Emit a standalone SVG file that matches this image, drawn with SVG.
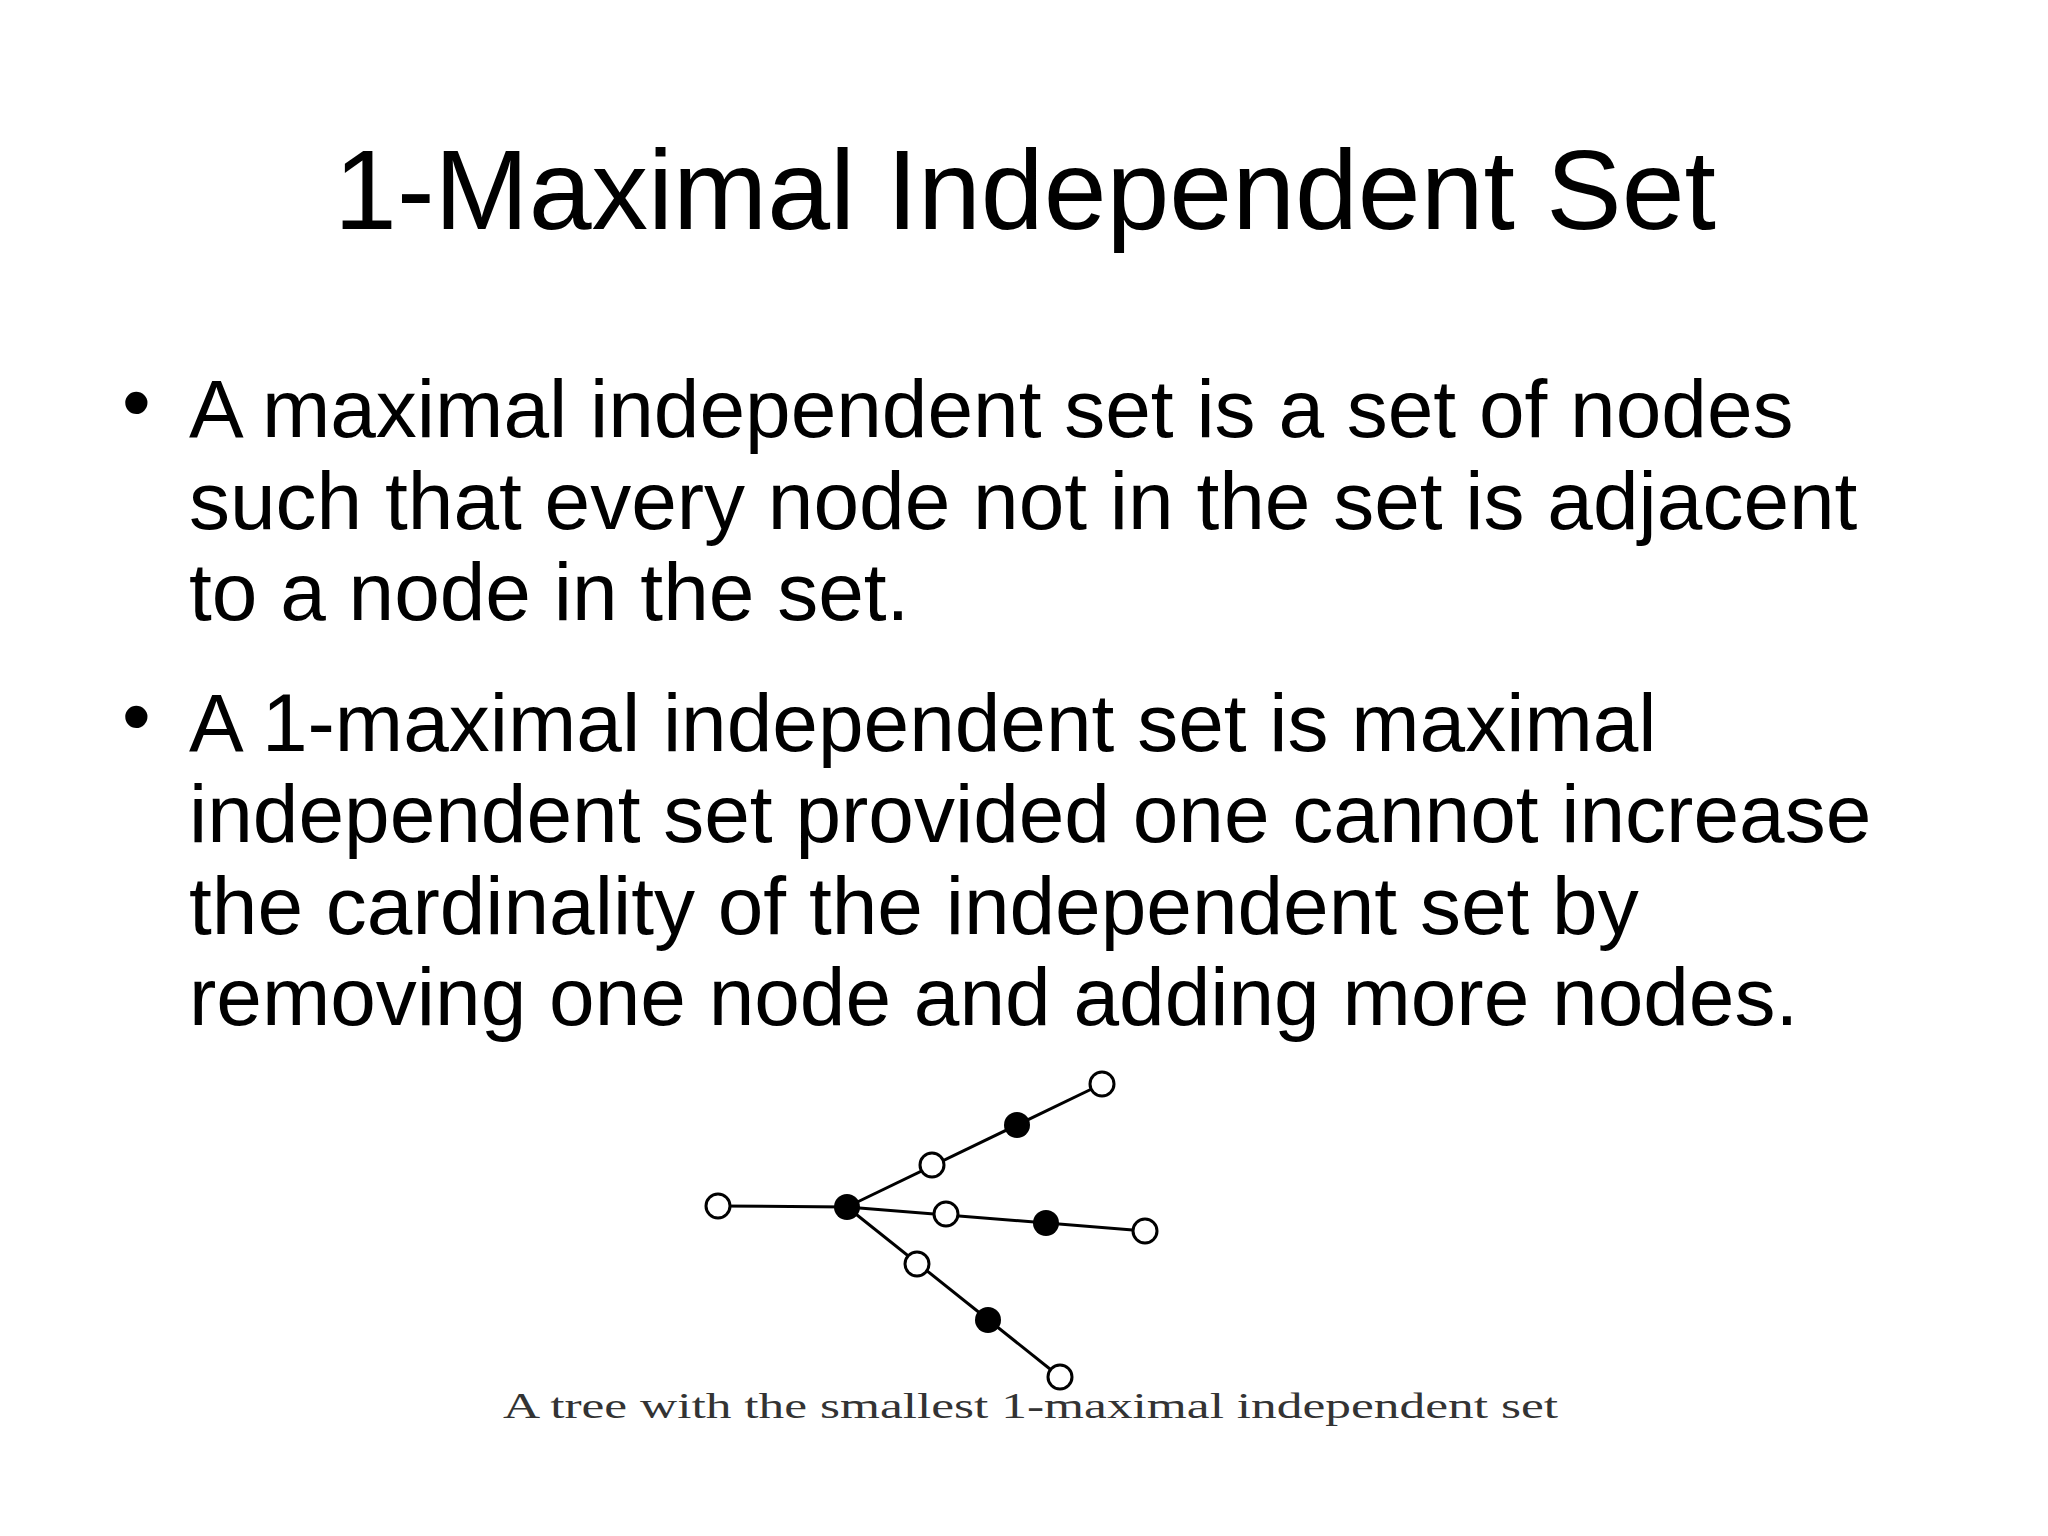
<svg xmlns="http://www.w3.org/2000/svg" width="2048" height="1536" viewBox="0 0 2048 1536">
<style>
.t{font-family:"Liberation Sans",Arial,sans-serif;fill:#000}
.b{font-size:82px}
.e{stroke:#000;stroke-width:3}
.w{fill:#fff;stroke:#000;stroke-width:3}
.k{fill:#000}
</style>
<rect width="2048" height="1536" fill="#fff"/>
<text class="t" x="1025" y="229" font-size="113" text-anchor="middle">1-Maximal Independent Set</text>
<g class="t b">
<text x="122" y="430">•</text>
<text x="189" y="437">A maximal independent set is a set of nodes</text>
<text x="189" y="529">such that every node not in the set is adjacent</text>
<text x="189" y="620">to a node in the set.</text>
<text x="122" y="744">•</text>
<text x="189" y="751">A 1-maximal independent set is maximal</text>
<text x="189" y="842">independent set provided one cannot increase</text>
<text x="189" y="934">the cardinality of the independent set by</text>
<text x="189" y="1025">removing one node and adding more nodes.</text>
</g>
<g id="edges">
<line class="e" x1="718" y1="1206" x2="847" y2="1207"/>
<line class="e" x1="847" y1="1207" x2="1102" y2="1084"/>
<line class="e" x1="847" y1="1207" x2="1145" y2="1231"/>
<line class="e" x1="847" y1="1207" x2="1060" y2="1377"/>
</g>
<g id="n1"><circle class="w" cx="718" cy="1206" r="12"/></g>
<g id="n2"><circle class="k" cx="847" cy="1207" r="13"/></g>
<g id="n3"><circle class="w" cx="932" cy="1165" r="12"/></g>
<g id="n4"><circle class="k" cx="1017" cy="1125" r="13"/></g>
<g id="n5"><circle class="w" cx="1102" cy="1084" r="12"/></g>
<g id="n6"><circle class="w" cx="946" cy="1214" r="12"/></g>
<g id="n7"><circle class="k" cx="1046" cy="1223" r="13"/></g>
<g id="n8"><circle class="w" cx="1145" cy="1231" r="12"/></g>
<g id="n9"><circle class="w" cx="917" cy="1264" r="12"/></g>
<g id="n10"><circle class="k" cx="988" cy="1320" r="13"/></g>
<g id="n11"><circle class="w" cx="1060" cy="1377" r="12"/></g>
<text x="503" y="1418" font-family="Liberation Serif,serif" font-size="36" fill="#333" textLength="1055" lengthAdjust="spacingAndGlyphs">A tree with the smallest 1-maximal independent set</text>
</svg>
